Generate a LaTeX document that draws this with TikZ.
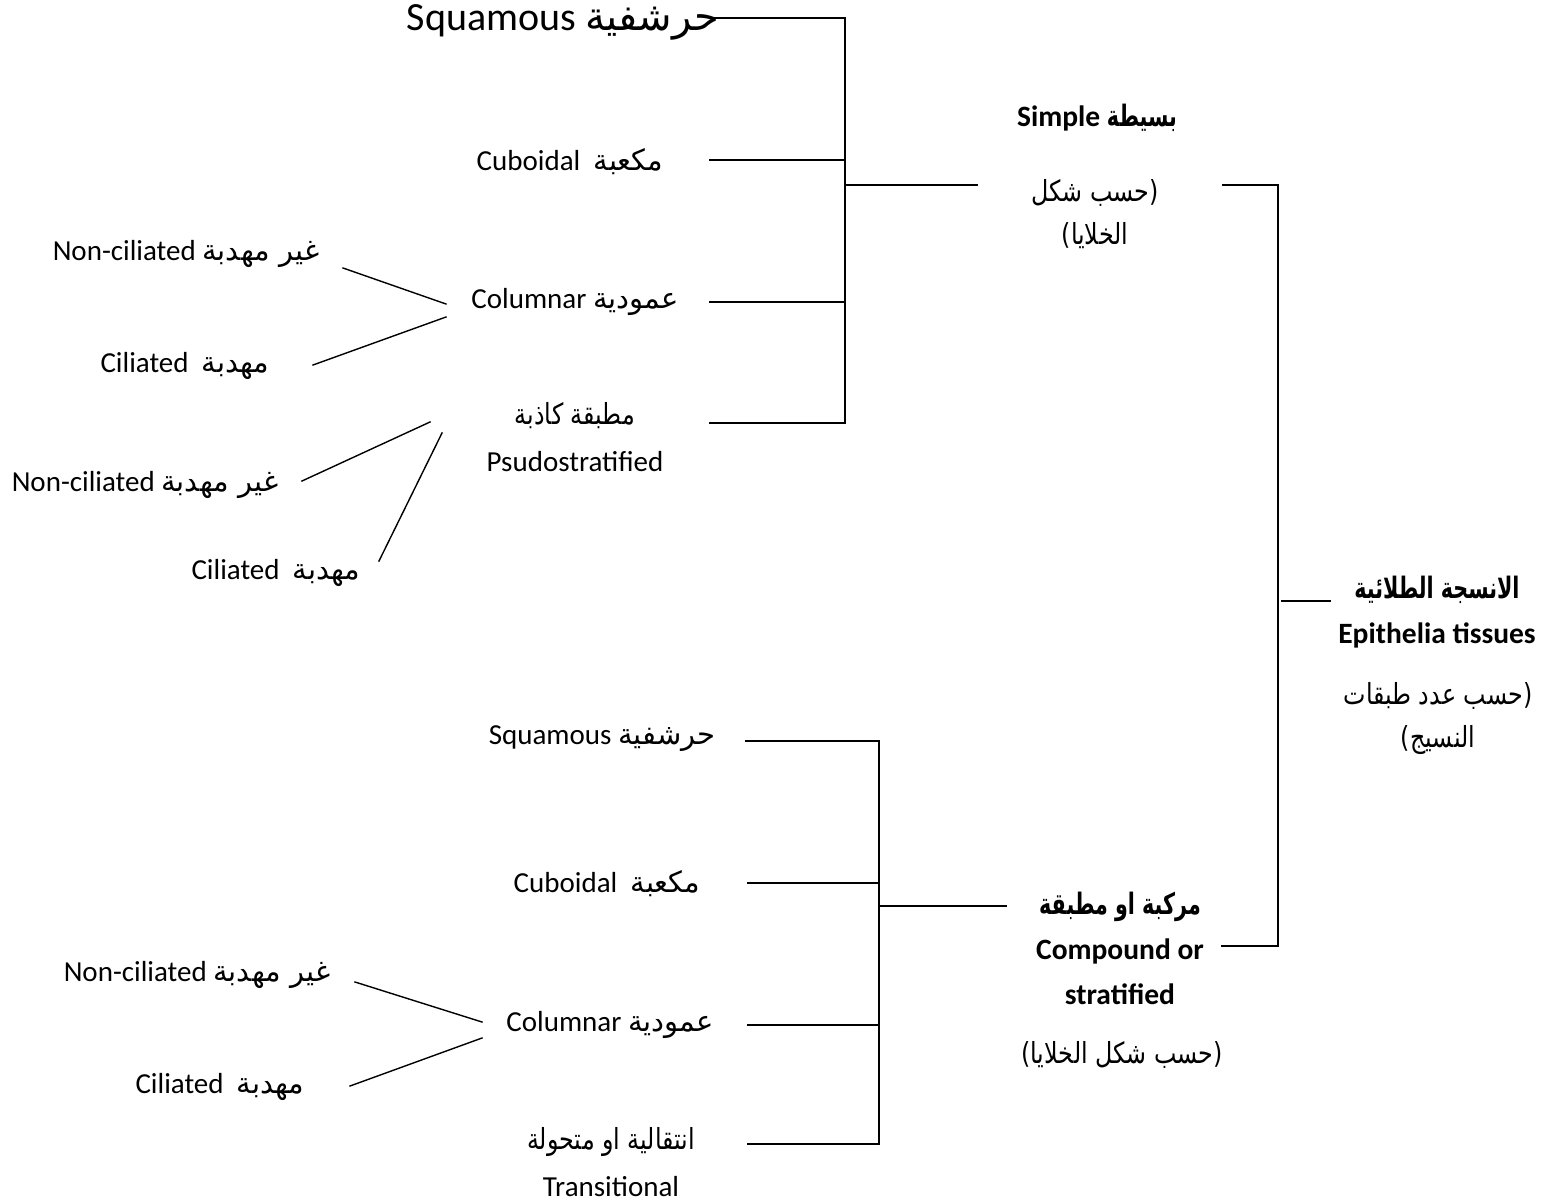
\documentclass[tikz,border=0pt]{standalone}
\usepackage{fontspec}
\setmainfont{Carlito}
\newfontfamily\arfont[Script=Arabic]{DejaVu Sans}
\newfontfamily\arnfont[Script=Arabic,FakeStretch=0.82]{DejaVu Sans}
\newfontfamily\arbfont[Script=Arabic,FakeStretch=0.7]{DejaVu Sans}
\TeXXeTstate=1
\newcommand\AR[1]{{\arfont\beginR #1\endR}}
\newcommand\ARn[1]{{\arnfont\beginR #1\endR}}
\newcommand\ARb[1]{{\arbfont\bfseries\beginR #1\endR}}
\begin{document}
\begin{tikzpicture}[x=1pt,y=-1pt,
  lbl/.style={inner sep=0pt,font=\fontsize{29}{47}\selectfont,align=center},
  note/.style={inner sep=0pt,font=\fontsize{29}{43}\selectfont,align=center},
  bigl/.style={inner sep=0pt,font=\fontsize{40}{46}\selectfont},
  bld/.style={inner sep=0pt,font=\fontsize{29.5}{45}\selectfont\bfseries,align=center},
  cn/.style={line width=1.4pt,line cap=rect}]
\useasboundingbox[fill=white] (0,0) rectangle (1544,1202);

% ---------- simple branch ----------
\node[bigl] (sqA) at (563,22) {Squamous \AR{حرشفية}};
\node[lbl] (cuA) at (570,162) {Cuboidal\ \ \AR{مكعبة}};
\node[lbl] (coA) at (575,302) {Columnar \AR{عمودية}};
\node[lbl] (psA) at (575,437) {\ARn{مطبقة كاذبة}\\Psudostratified};
\node[lbl] (ncA) at (186,254) {Non-ciliated \AR{غير مهدبة}};
\node[lbl] (ciA) at (185,366) {Ciliated\ \ \AR{مهدبة}};
\node[lbl] (ncB) at (145,485) {Non-ciliated \AR{غير مهدبة}};
\node[lbl] (ciB) at (276,573) {Ciliated\ \ \AR{مهدبة}};

\node[bld] (simple) at (1097,118) {Simple \ARb{بسيطة}};
\node[note] (simpnote) at (1095,214) {\ARn{(حسب شكل}\\\ARn{الخلايا)}};

% ---------- root ----------
\node[bld] (root) at (1437,612) {\ARb{الانسجة الطلائية}\\Epithelia tissues};
\node[note] (rootnote) at (1438,719) {\ARn{(حسب عدد طبقات}\\\ARn{النسيج)}};

% ---------- compound branch ----------
\node[bld] (comp) at (1120,948) {\ARb{مركبة او مطبقة}\\Compound or\\stratified};
\node[note] (compnote) at (1122,1055) {\ARn{(حسب شكل الخلايا)}};
\node[lbl] (sqB) at (602,739) {Squamous \AR{حرشفية}};
\node[lbl] (cuB) at (607,884) {Cuboidal\ \ \AR{مكعبة}};
\node[lbl] (coB) at (610,1025) {Columnar \AR{عمودية}};
\node[lbl] (trB) at (611,1162) {\ARn{انتقالية او متحولة}\\Transitional};
\node[lbl] (ncC) at (197,975) {Non-ciliated \AR{غير مهدبة}};
\node[lbl] (ciC) at (220,1087) {Ciliated\ \ \AR{مهدبة}};

% ---------- connector coordinates ----------
\coordinate (sqAe) at (715,18);
\coordinate (brAt) at (845,18);
\coordinate (brAb) at (845,423);
\coordinate (cuAe) at (710,160);
\coordinate (cuAb) at (845,160);
\coordinate (coAe) at (710,302);
\coordinate (coAb) at (845,302);
\coordinate (psAe) at (710,423);
\coordinate (brAm) at (845,185);
\coordinate (simpW) at (977,185);

\coordinate (simpE) at (1223,185);
\coordinate (brRt) at (1278,185);
\coordinate (brRb) at (1278,946);
\coordinate (compE) at (1222,946);
\coordinate (brRm) at (1282,601);
\coordinate (rootW) at (1330,601);

\coordinate (sqBe) at (746,741);
\coordinate (brBt) at (879,741);
\coordinate (brBb) at (879,1144);
\coordinate (trBe) at (748,1144);
\coordinate (cuBe) at (748,883);
\coordinate (cuBb) at (879,883);
\coordinate (coBe) at (748,1025);
\coordinate (coBb) at (879,1025);
\coordinate (brBm) at (879,906);
\coordinate (compW) at (1006,906);

\coordinate (ncAe) at (343,268);  \coordinate (coAw1) at (446,304);
\coordinate (ciAe) at (313,365);  \coordinate (coAw2) at (446,317);
\coordinate (ncBe) at (302,481);  \coordinate (psAw1) at (430,422);
\coordinate (ciBe) at (379,561);  \coordinate (psAw2) at (442,433);
\coordinate (ncCe) at (355,982);  \coordinate (coBw1) at (482,1022);
\coordinate (ciCe) at (350,1086); \coordinate (coBw2) at (482,1038);

% ---------- connectors ----------
\draw[cn] (sqAe) -- (brAt) -- (brAb) -- (psAe);
\draw[cn] (cuAe) -- (cuAb);
\draw[cn] (coAe) -- (coAb);
\draw[cn] (brAm) -- (simpW);

\draw[cn] (simpE) -- (brRt) -- (brRb) -- (compE);
\draw[cn] (brRm) -- (rootW);

\draw[cn] (sqBe) -- (brBt) -- (brBb) -- (trBe);
\draw[cn] (cuBe) -- (cuBb);
\draw[cn] (coBe) -- (coBb);
\draw[cn] (brBm) -- (compW);

\draw[cn] (ncAe) -- (coAw1);
\draw[cn] (ciAe) -- (coAw2);
\draw[cn] (ncBe) -- (psAw1);
\draw[cn] (ciBe) -- (psAw2);
\draw[cn] (ncCe) -- (coBw1);
\draw[cn] (ciCe) -- (coBw2);
\end{tikzpicture}
\end{document}
